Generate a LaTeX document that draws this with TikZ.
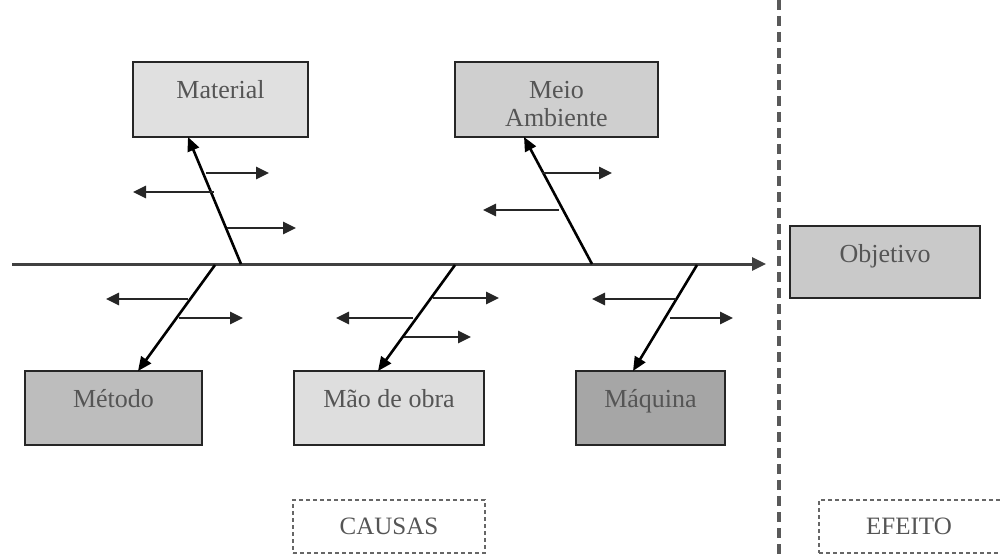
\documentclass[tikz,border=0pt]{standalone}
\usepackage{fontspec}
\setmainfont{Liberation Serif}
\usetikzlibrary{arrows.meta}
\definecolor{txt}{HTML}{555555}
\tikzset{
  box/.style={draw=black!85, line width=2.6pt, rectangle, inner sep=0pt},
  lbl/.style={text=txt, font=\fontsize{26}{28}\selectfont, inner sep=0pt, anchor=north, align=center},
  bone/.style={draw=black, line width=2.6pt, -{Triangle[length=14pt,width=12pt]}},
  twig/.style={draw=black!85, line width=2.6pt, -{Triangle[length=13pt,width=12pt]}},
  tag/.style={draw=black!60, dash pattern=on 4pt off 3pt, line width=2.2pt, rectangle, inner sep=0pt, text=txt, font=\fontsize{25}{28}\selectfont},
}
\begin{document}
\begin{tikzpicture}[x=1pt,y=-1pt]
\useasboundingbox (0,0) rectangle (1000,556);
% boxes
\node[box, fill=black!12, minimum width=175pt, minimum height=75pt] (mat) at (220.5,99.5) {};
\node[lbl] (matt) at ([yshift=-20pt]mat.north) {Material};
\node[box, fill=black!19, minimum width=203pt, minimum height=75pt] (meio) at (556.5,99.5) {};
\node[lbl] (meiot) at ([yshift=-20pt]meio.north) {Meio\\Ambiente};
\node[box, fill=black!21, minimum width=190pt, minimum height=72pt] (obj) at (885,262) {};
\node[lbl] (objt) at ([yshift=-20pt]obj.north) {Objetivo};
\node[box, fill=black!26, minimum width=177pt, minimum height=74pt] (met) at (113.5,408) {};
\node[lbl] (mett) at ([yshift=-20pt]met.north) {Método};
\node[box, fill=black!13, minimum width=190pt, minimum height=74pt] (mao) at (389,408) {};
\node[lbl] (maot) at ([yshift=-20pt]mao.north) {Mão de obra};
\node[box, fill=black!35, minimum width=149pt, minimum height=74pt] (maq) at (650.5,408) {};
\node[lbl] (maqt) at ([yshift=-20pt]maq.north) {Máquina};
% tags
\node[tag, minimum width=192pt, minimum height=53pt] (causas) at (389,526.5) {CAUSAS};
\node[tag, minimum width=190pt, minimum height=53pt, anchor=west] (efeito) at (818,526.5) {};
\node[text=txt, font=\fontsize{25}{28}\selectfont, inner sep=0pt] (efeitot) at (909,526.5) {EFEITO};
% divider
\coordinate (dtop) at (779,0);
\coordinate (dbot) at (779,556);
\draw[black!65, line width=3.5pt, dash pattern=on 10pt off 6pt] (dtop) -- (dbot);
% spine
\coordinate (s0) at (12,264);
\coordinate (s1) at (766,264);
\draw[draw=black!75, line width=3pt, -{Triangle[length=14pt,width=13pt]}] (s0) -- (s1);
% bones
\coordinate (b1) at (241,264); \coordinate (t1) at (188,137);
\coordinate (b2) at (592,264); \coordinate (t2) at (524,137);
\coordinate (b3) at (215,265); \coordinate (t3) at (138,371);
\coordinate (b4) at (455,265); \coordinate (t4) at (378,371);
\coordinate (b5) at (697,265); \coordinate (t5) at (633,371);
\draw[bone] (b1) -- (t1);
\draw[bone] (b2) -- (t2);
\draw[bone] (b3) -- (t3);
\draw[bone] (b4) -- (t4);
\draw[bone] (b5) -- (t5);
% twigs: Material
\coordinate (m1a) at (206,173); \coordinate (m1b) at (269,173);
\coordinate (m2a) at (214,192); \coordinate (m2b) at (133,192);
\coordinate (m3a) at (227,228); \coordinate (m3b) at (296,228);
\draw[twig] (m1a) -- (m1b);
\draw[twig] (m2a) -- (m2b);
\draw[twig] (m3a) -- (m3b);
% Meio
\coordinate (e1a) at (542,173); \coordinate (e1b) at (612,173);
\coordinate (e2a) at (559,210); \coordinate (e2b) at (483,210);
\draw[twig] (e1a) -- (e1b);
\draw[twig] (e2a) -- (e2b);
% Metodo
\coordinate (d1a) at (188,299); \coordinate (d1b) at (106,299);
\coordinate (d2a) at (179,318); \coordinate (d2b) at (243,318);
\draw[twig] (d1a) -- (d1b);
\draw[twig] (d2a) -- (d2b);
% Mao
\coordinate (o1a) at (433,298); \coordinate (o1b) at (499,298);
\coordinate (o2a) at (413,318); \coordinate (o2b) at (336,318);
\coordinate (o3a) at (404,337); \coordinate (o3b) at (471,337);
\draw[twig] (o1a) -- (o1b);
\draw[twig] (o2a) -- (o2b);
\draw[twig] (o3a) -- (o3b);
% Maquina
\coordinate (q1a) at (676,299); \coordinate (q1b) at (592,299);
\coordinate (q2a) at (670,318); \coordinate (q2b) at (733,318);
\draw[twig] (q1a) -- (q1b);
\draw[twig] (q2a) -- (q2b);
\end{tikzpicture}
\end{document}
